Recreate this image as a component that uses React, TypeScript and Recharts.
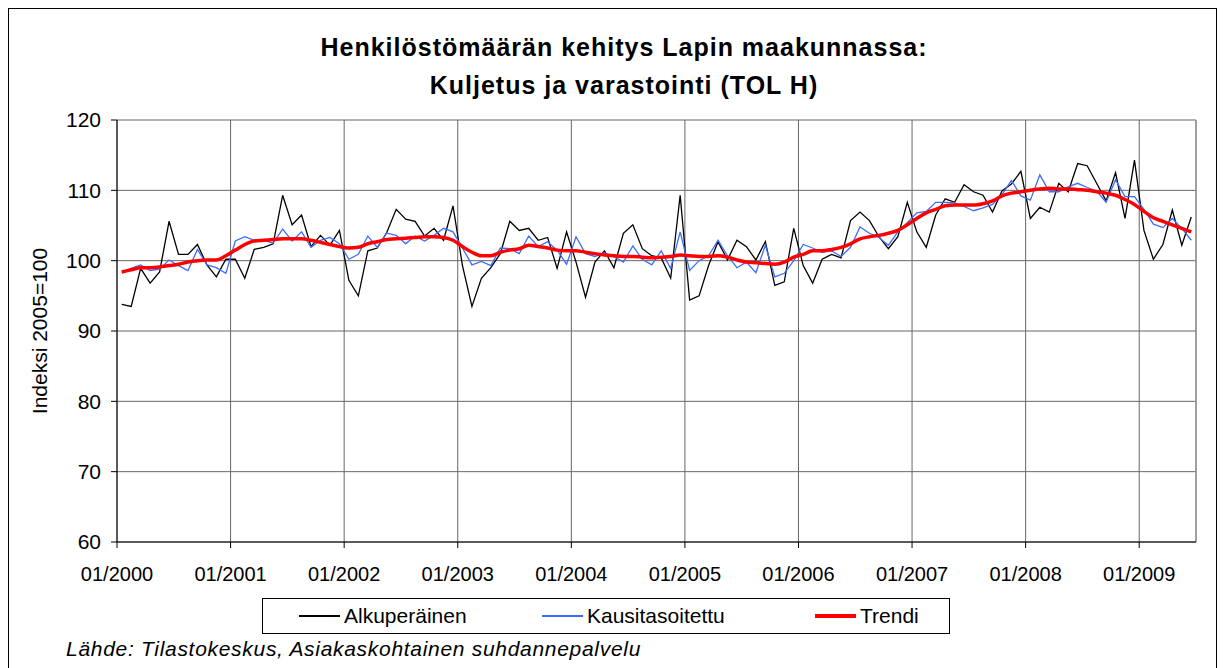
import React from 'react'
import { LineChart, Line, XAxis, YAxis, CartesianGrid, ReferenceLine } from 'recharts'

const startYear = 2000
const yearTicks = [0, 1, 2, 3, 4, 5, 6, 7, 8, 9]
const yTicks = [60, 70, 80, 90, 100, 110, 120]

// Alkuperäinen (monthly, 01/2000 - 06/2009)
const original = [
  93.8, 93.5, 98.9, 96.8, 98.4, 105.6, 100.9, 100.9, 102.3, 99.4, 97.7, 100.2,
  100.2, 97.5, 101.6, 101.9, 102.4, 109.3, 105.1, 106.5, 102.0, 103.6, 102.2, 104.3,
  97.2, 95.0, 101.4, 101.8, 104.0, 107.3, 105.9, 105.6, 103.5, 104.6, 102.9, 107.8,
  99.3, 93.5, 97.5, 99.0, 101.0, 105.6, 104.3, 104.6, 102.9, 103.3, 98.9, 104.1,
  99.8, 94.8, 99.8, 101.4, 99.0, 103.9, 105.1, 101.7, 100.7, 100.4, 97.5, 109.3,
  94.4, 95.0, 99.3, 102.7, 100.1, 102.9, 102.0, 100.1, 102.7, 96.5, 97.0, 104.6,
  99.3, 96.8, 100.2, 100.9, 100.4, 105.7, 106.9, 105.7, 103.4, 101.7, 103.4, 108.3,
  104.1, 101.9, 106.5, 108.8, 108.3, 110.8, 109.8, 109.3, 106.9, 109.9, 110.9, 112.7,
  106.0, 107.6, 106.9, 111.0, 109.8, 113.8, 113.5, 111.0, 108.5, 112.5, 106.0, 114.3,
  104.3, 100.2, 102.3, 107.2, 102.2, 106.2,
]

// Kausitasoitettu
const seasonal = [
  98.3, 98.9, 99.4, 98.6, 98.8, 100.1, 99.3, 98.6, 101.6, 99.4, 99.0, 98.2,
  102.8, 103.4, 102.9, 102.9, 102.5, 104.5, 102.8, 104.1, 101.9, 102.9, 103.3, 102.4,
  100.2, 100.9, 103.5, 101.9, 103.9, 103.6, 102.4, 103.5, 102.8, 103.6, 104.6, 104.1,
  101.8, 99.4, 99.9, 99.3, 101.8, 101.7, 101.0, 103.5, 102.0, 102.7, 101.5, 99.5,
  103.4, 101.0, 100.6, 101.1, 100.6, 99.8, 102.1, 100.2, 99.4, 101.4, 98.9, 104.1,
  98.6, 100.0, 100.7, 102.9, 100.7, 99.0, 99.8, 98.3, 102.2, 97.7, 98.2, 100.0,
  102.3, 101.8, 101.2, 101.4, 100.6, 101.9, 104.8, 103.9, 103.3, 102.2, 104.1, 105.4,
  106.8, 107.0, 108.3, 108.3, 108.2, 107.7, 107.1, 107.5, 108.0, 109.4, 111.4, 109.2,
  108.6, 112.2, 109.8, 109.8, 110.5, 111.0, 110.4, 109.9, 108.3, 111.5, 109.1, 109.1,
  107.3, 105.2, 104.7, 106.0, 104.6, 102.9,
]

// Trendi
const trend = [
  98.4, 98.7, 99.0, 99.0, 99.1, 99.3, 99.5, 99.8, 100.0, 100.1, 100.1, 100.7,
  101.5, 102.3, 102.8, 102.9, 103.0, 103.1, 103.1, 103.1, 102.9, 102.6, 102.3, 102.0,
  101.8, 101.9, 102.4, 102.7, 103.0, 103.1, 103.2, 103.3, 103.4, 103.4, 103.3, 102.9,
  102.0, 101.2, 100.7, 100.7, 101.2, 101.5, 101.7, 102.2, 102.0, 101.8, 101.5, 101.4,
  101.4, 101.2, 101.0, 100.8, 100.7, 100.6, 100.6, 100.5, 100.4, 100.5, 100.6, 100.8,
  100.7, 100.6, 100.6, 100.7, 100.5, 100.1, 99.8, 99.7, 99.6, 99.5, 99.8, 100.5,
  100.9, 101.4, 101.4, 101.6, 101.9, 102.4, 103.1, 103.4, 103.6, 103.9, 104.3, 105.1,
  106.0, 106.8, 107.3, 107.8, 107.9, 107.9, 107.9, 108.1, 108.5, 109.2, 109.6, 109.8,
  110.0, 110.2, 110.3, 110.2, 110.2, 110.1, 110.0, 109.8, 109.6, 109.3, 108.7, 108.0,
  107.0, 106.1, 105.6, 105.1, 104.6, 104.1,
]

const legendItems = [
  { key: 'a', name: 'Alkuperäinen', color: '#000', w: 1.5, x: 36 },
  { key: 'k', name: 'Kausitasoitettu', color: '#3d6dff', w: 1.5, x: 279 },
  { key: 't', name: 'Trendi', color: '#ff0000', w: 4, x: 552 },
]

const data = original.map((v, i) => ({ i, a: v, k: seasonal[i], t: trend[i] }))
const xTicks = yearTicks.map((y) => y * 12 - 0.5)
const fmtX = (v: number) => `01/${startYear + Math.round((v + 0.5) / 12)}`

const font = '"Liberation Sans", Arial, sans-serif'

export default function App() {
  return (
    <div style={{ position: 'relative', width: 1209, height: 680, border: '1px solid #000', borderBottom: 'none', boxSizing: 'border-box', fontFamily: font, background: '#fff' }}>
      <div style={{ position: 'absolute', left: 0, width: 1230, top: 19, textAlign: 'center', fontWeight: 'bold', fontSize: 25, letterSpacing: 1, lineHeight: '38px' }}>
        Henkilöstömäärän kehitys Lapin maakunnassa:
        <br />
        Kuljetus ja varastointi (TOL H)
      </div>
      <LineChart
        width={1209}
        height={652}
        data={data}
        margin={{ top: 112, right: 21, bottom: 88, left: 49 }}
        style={{ position: 'absolute', left: -1, top: -1 }}
      >
        <CartesianGrid stroke="#666" strokeWidth={1} />
        <ReferenceLine x={113.5} stroke="#999" strokeWidth={1.5} />
        <XAxis
          dataKey="i"
          type="number"
          domain={[-0.5, 113.5]}
          ticks={xTicks}
          tickFormatter={fmtX}
          interval={0}
          stroke="#000"
          tickSize={6}
          tickMargin={19}
          height={30}
          tick={{ fill: '#000', fontSize: 20, fontFamily: font }}
        />
        <YAxis
          domain={[60, 120]}
          ticks={yTicks}
          interval={0}
          stroke="#000"
          width={60}
          tickSize={6}
          tickMargin={10}
          tick={{ fill: '#000', fontSize: 21, fontFamily: font }}
          label={{ value: 'Indeksi 2005=100', angle: -90, position: 'insideLeft', offset: -17, style: { textAnchor: 'middle', fontSize: 21, fill: '#000', fontFamily: font } }}
        />
        <Line dataKey="a" stroke="#000" strokeWidth={1.3} dot={false} isAnimationActive={false} type="linear" />
        <Line dataKey="k" stroke="#3d6dff" strokeWidth={1.3} dot={false} isAnimationActive={false} type="linear" />
        <Line dataKey="t" stroke="#ff0000" strokeWidth={3.5} dot={false} isAnimationActive={false} type="monotone" />
      </LineChart>
      <div style={{ position: 'absolute', left: 253, top: 589, width: 688, height: 36, border: '1px solid #000', boxSizing: 'border-box', fontSize: 21 }}>
        {legendItems.map((it) => (
          <div key={it.key} style={{ position: 'absolute', left: it.x, top: 4, display: 'flex', alignItems: 'center', height: 26 }}>
            <div style={{ width: 41, height: it.w, background: it.color }} />
            <span style={{ marginLeft: 4 }}>{it.name}</span>
          </div>
        ))}
      </div>
      <div style={{ position: 'absolute', left: 57, top: 628, fontSize: 21, fontStyle: 'italic', letterSpacing: 0.7 }}>
        Lähde: Tilastokeskus, Asiakaskohtainen suhdannepalvelu
      </div>
    </div>
  )
}
